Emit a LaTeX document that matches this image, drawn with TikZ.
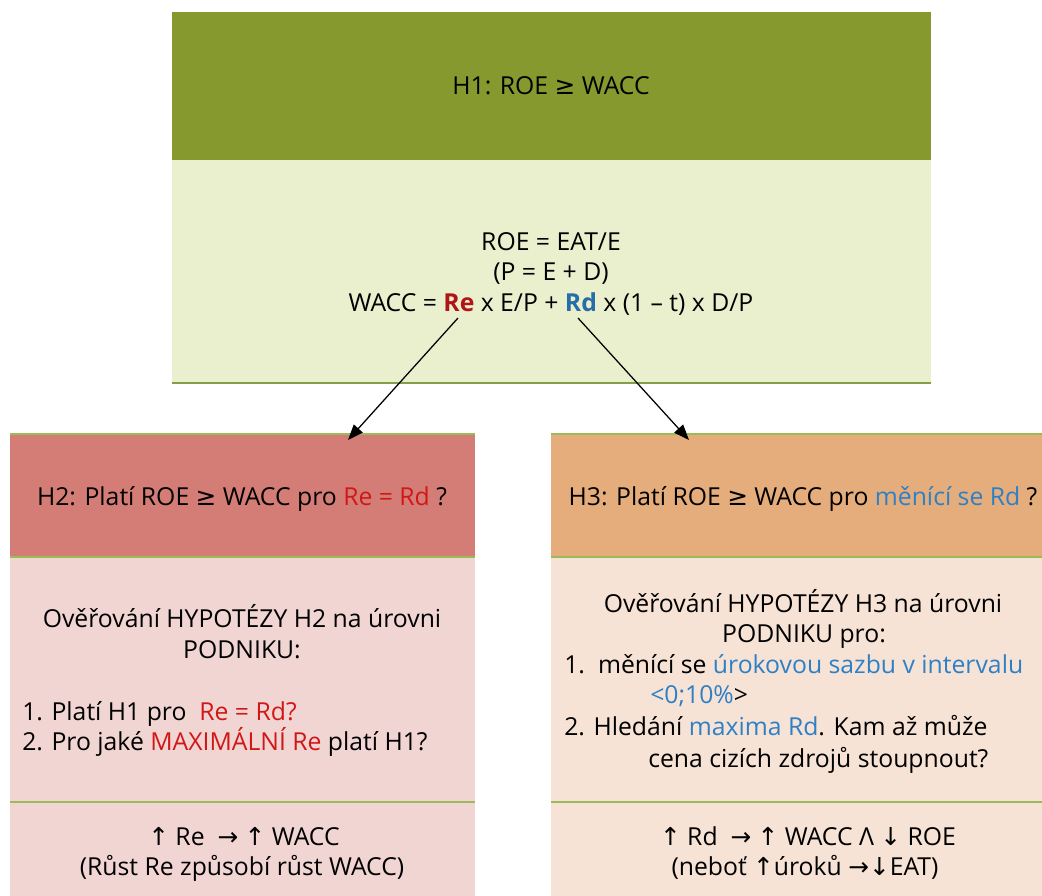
\documentclass[tikz,border=0pt]{standalone}
\usepackage{fontspec}
\setmainfont{Open Sans}
\newfontfamily\symfont{DejaVu Sans}
\usetikzlibrary{arrows.meta,positioning}
\definecolor{olive}{HTML}{86992E}
\definecolor{olivelt}{HTML}{EAF0CD}
\definecolor{rosedk}{HTML}{D47D76}
\definecolor{roselt}{HTML}{F1D5D3}
\definecolor{amberdk}{HTML}{E6AD7C}
\definecolor{amberlt}{HTML}{F7E3D5}
\definecolor{edge}{HTML}{9BBB59}
\definecolor{redtx}{HTML}{D01818}
\definecolor{bluetx}{HTML}{2E80C6}
\newcommand{\symge}{{\symfont ≥}}
\newcommand{\symup}{{\symfont ↑}}
\newcommand{\symdn}{{\symfont ↓}}
\newcommand{\symto}{{\symfont →}}

\begin{document}
\begin{tikzpicture}[x=0.025cm,y=-0.025cm,
    txt/.style={inner sep=0pt,font=\fontsize{17.6}{21.5}\selectfont},
    sep/.style={edge,line width=1.2pt},
    arr/.style={-{Triangle[length=11pt,width=8.5pt]},line width=0.9pt}]
  \useasboundingbox (0,0) rectangle (1042,896);
  % H1 block
  \fill[olive] (172,12) rectangle (931,160);
  \fill[olivelt] (172,160) rectangle (931,383);
  \draw[sep,edge!85!black] (172,383) -- (931,383);
  \node[txt] (h1) at (551,86) {H1: ROE \symge\ WACC};
  \node[txt,anchor=base] (roe) at (551,250) {ROE = EAT/E};
  \node[txt,anchor=base] (pe) at (551,280) {(P = E + D)};
  \node[txt,anchor=base] (wacc) at (551,311) {WACC = \textcolor{redtx!85!black}{\bfseries Re} x E/P + \textcolor{bluetx!85!black}{\bfseries Rd} x (1 -- t) x D/P};
  \coordinate (re) at (458,318);
  \coordinate (rd) at (578,318);
  % H2 panel
  \fill[rosedk] (10,434) rectangle (475,557);
  \fill[roselt] (10,557) rectangle (475,896);
  \foreach \y in {434,557,802}{\draw[sep] (10,\y) -- (475,\y);}
  \node[txt,anchor=base] (h2) at (242,505) {H2: Platí ROE \symge\ WACC pro \textcolor{redtx}{Re = Rd} ?};
  \node[txt,anchor=base] (h2a) at (242,627) {Ověřování HYPOTÉZY H2 na úrovni};
  \node[txt,anchor=base] (h2b) at (242,658) {PODNIKU:};
  \node[txt,anchor=base west] (h2c) at (22,720) {1. Platí H1 pro\ \ \textcolor{redtx}{Re = Rd?}};
  \node[txt,anchor=base west] (h2d) at (22,750) {2. Pro jaké \textcolor{redtx}{MAXIMÁLNÍ Re} platí H1?};
  \node[txt,anchor=base] (h2e) at (244,845) {\symup\ Re\ \ \symto\ \symup\ WACC};
  \node[txt,anchor=base] (h2f) at (242,875) {(Růst Re způsobí růst WACC)};
  % H3 panel
  \fill[amberdk] (551,434) rectangle (1042,557);
  \fill[amberlt] (551,557) rectangle (1042,896);
  \foreach \y in {434,557,802}{\draw[sep] (551,\y) -- (1042,\y);}
  \node[txt,anchor=base] (h3) at (803,505) {H3: Platí ROE \symge\ WACC pro \textcolor{bluetx}{měnící se Rd} ?};
  \node[txt,anchor=base] (h3a) at (803,612) {Ověřování HYPOTÉZY H3 na úrovni};
  \node[txt,anchor=base] (h3b) at (804,642) {PODNIKU pro:};
  \node[txt,anchor=base west] (h3c) at (564,673) {\makebox[24pt][l]{1.}měnící se \textcolor{bluetx}{úrokovou sazbu v intervalu}};
  \node[txt,anchor=base west] (h3d) at (650,703) {\textcolor{bluetx}{<0;10\%}>};
  \node[txt,anchor=base west] (h3e) at (564,735) {2. Hledání \textcolor{bluetx}{maxima Rd}. Kam až může};
  \node[txt,anchor=base west] (h3f) at (648,767) {cena cizích zdrojů stoupnout?};
  \node[txt,anchor=base] (h3g) at (808,845) {\symup\ Rd\ \ \symto\ \symup\ WACC Λ \symdn\ ROE};
  \node[txt,anchor=base] (h3h) at (805,875) {(neboť \symup úroků \symto\symdn EAT)};
  % arrows
  \coordinate (h2in) at (348,440);
  \coordinate (h3in) at (689,440);
  \draw[arr] (re) -- (h2in);
  \draw[arr] (rd) -- (h3in);
\end{tikzpicture}
\end{document}
